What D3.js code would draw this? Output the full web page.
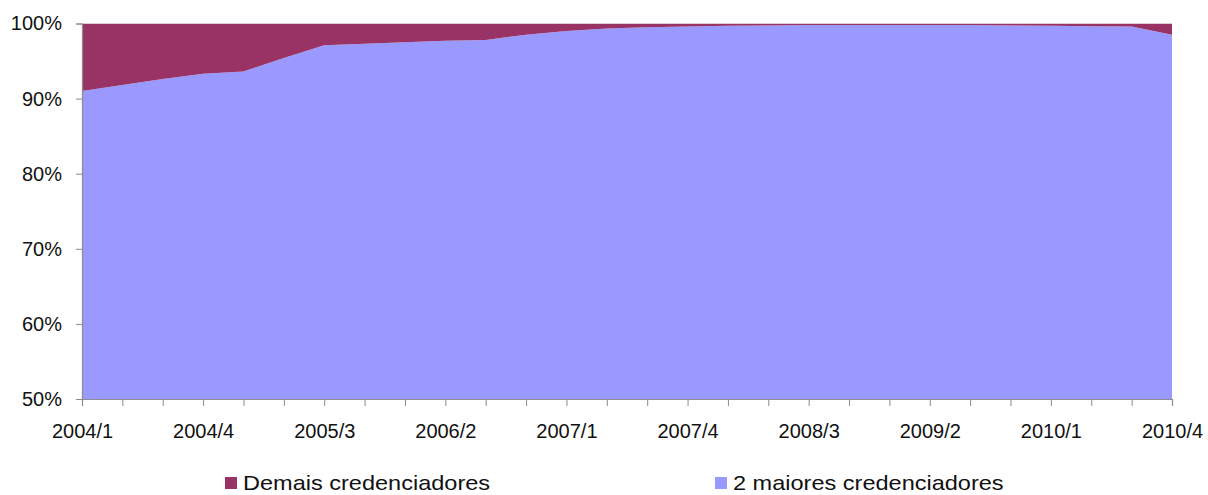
<!DOCTYPE html>
<html>
<head>
<meta charset="utf-8">
<script src="https://cdn.jsdelivr.net/npm/d3@7/dist/d3.min.js"></script>
<style>
  html, body { margin: 0; padding: 0; background: #fff; }
  svg { display: block; font-family: "Liberation Sans", Arial, sans-serif; }
</style>
</head>
<body>
<svg id="chart" width="1208" height="495"></svg>
<script>
// Quarterly periods, 2004/1 .. 2010/4
const quarters = [
  "2004/1","2004/2","2004/3","2004/4",
  "2005/1","2005/2","2005/3","2005/4",
  "2006/1","2006/2","2006/3","2006/4",
  "2007/1","2007/2","2007/3","2007/4",
  "2008/1","2008/2","2008/3","2008/4",
  "2009/1","2009/2","2009/3","2009/4",
  "2010/1","2010/2","2010/3","2010/4"
];

// Share (%) of the two largest acquirers
const doisMaiores = [
  91.0, 91.8, 92.6, 93.3,
  93.6, 95.4, 97.1, 97.3,
  97.5, 97.7, 97.8, 98.5,
  99.0, 99.35, 99.5, 99.6,
  99.7, 99.75, 99.8, 99.8,
  99.8, 99.8, 99.8, 99.75,
  99.7, 99.65, 99.6, 98.5
];

// Share (%) of the remaining acquirers
const demais = [
  9.0, 8.2, 7.4, 6.7,
  6.4, 4.6, 2.9, 2.7,
  2.5, 2.3, 2.2, 1.5,
  1.0, 0.65, 0.5, 0.4,
  0.3, 0.25, 0.2, 0.2,
  0.2, 0.2, 0.2, 0.25,
  0.3, 0.35, 0.4, 1.5
];

const xTickLabels = ["2004/1","2004/4","2005/3","2006/2","2007/1","2007/4","2008/3","2009/2","2010/1","2010/4"];
const yTicks = [50, 60, 70, 80, 90, 100];

const seriesNames = ["2 maiores credenciadores", "Demais credenciadores"];
const seriesColors = ["#9999ff", "#993366"];

const svg = d3.select("#chart");
const plotLeft = 82, plotRight = 1172, plotTop = 23.5, plotBottom = 399;

const x = d3.scalePoint().domain(quarters).range([plotLeft, plotRight]);
const y = d3.scaleLinear().domain([50, 100]).range([plotBottom, plotTop]);

const rows = quarters.map((q, i) => ({ q, a: doisMaiores[i], b: demais[i] }));
const stacked = d3.stack().keys(["a", "b"])(rows);

// The stack starts at 0 %, so the area is clipped to the visible 50–100 % window
svg.append("clipPath").attr("id", "plotclip")
  .append("rect").attr("x", plotLeft).attr("y", plotTop)
  .attr("width", plotRight - plotLeft).attr("height", plotBottom - plotTop);

const area = d3.area()
  .x(d => x(d.data.q))
  .y0(d => y(d[0]))
  .y1(d => y(d[1]));

svg.append("g").attr("clip-path", "url(#plotclip)")
  .selectAll("path").data(stacked).join("path")
  .attr("d", area)
  .attr("fill", (d, i) => seriesColors[i]);

// Y axis
const yAxis = svg.append("g").attr("transform", `translate(${plotLeft},0)`)
  .call(d3.axisLeft(y).tickValues(yTicks).tickFormat(d => d + "%").tickSize(6).tickPadding(14));
yAxis.select(".domain").attr("stroke", "#8c8c8c").attr("stroke-width", 1.2);
yAxis.selectAll(".tick line").attr("stroke", "#8c8c8c");
yAxis.selectAll("text").attr("font-size", 20).attr("fill", "#111")
  .attr("font-family", "'Liberation Sans', Arial, sans-serif");

// X axis: a tick at every quarter, labels every third quarter
const xAxis = svg.append("g").attr("transform", `translate(0,${plotBottom})`)
  .call(d3.axisBottom(x).tickSize(7).tickPadding(18)
    .tickFormat(d => xTickLabels.includes(d) ? d : ""));
xAxis.select(".domain").attr("stroke", "#8c8c8c").attr("stroke-width", 1.2);
xAxis.selectAll(".tick line").attr("stroke", "#8c8c8c");
xAxis.selectAll("text").attr("font-size", 20).attr("fill", "#111")
  .attr("font-family", "'Liberation Sans', Arial, sans-serif");

// Legend (text is slightly wide-set)
const legendItems = [
  { name: seriesNames[1], color: seriesColors[1], x: 225 },
  { name: seriesNames[0], color: seriesColors[0], x: 715 }
];
const lg = svg.append("g").selectAll("g").data(legendItems).join("g")
  .attr("transform", d => `translate(${d.x},477)`);
lg.append("rect").attr("width", 12).attr("height", 12).attr("fill", d => d.color);
lg.append("text").attr("x", 18).attr("y", 13)
  .attr("font-size", 21).attr("fill", "#111")
  .text(d => d.name)
  .each(function () {
    const w = this.getComputedTextLength();
    d3.select(this).attr("textLength", w * 1.12).attr("lengthAdjust", "spacingAndGlyphs");
  });
</script>
</body>
</html>
